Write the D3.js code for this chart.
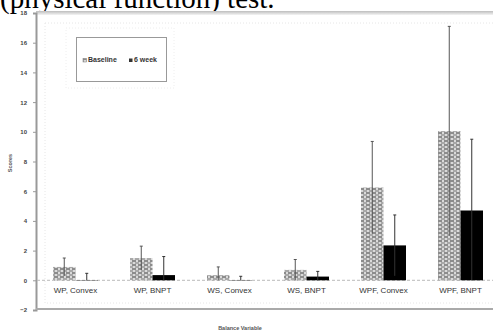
<!DOCTYPE html>
<html>
<head>
<meta charset="utf-8">
<script src="https://cdn.jsdelivr.net/npm/d3@7"></script>
<style>
  body { margin: 0; background: #fff; overflow: hidden; }
  svg { display: block; }
</style>
</head>
<body>
<div id="chart"></div>
<script>
// chart values
var categories = ['WP, Convex', 'WP, BNPT', 'WS, Convex', 'WS, BNPT', 'WPF, Convex', 'WPF, BNPT'];
var series = ['Baseline', '6 week'];
var baseline = [0.9, 1.5, 0.35, 0.7, 6.25, 10.05];
var baselineSD = [0.6, 0.8, 0.55, 0.7, 3.1, 7.05];
var followup = [0.02, 0.35, 0.02, 0.25, 2.35, 4.7];
var followupSD = [0.45, 1.25, 0.25, 0.35, 2.05, 4.8];
var yTicks = [-2, 0, 2, 4, 6, 8, 10, 12, 14, 16, 18];

var W = 493, H = 335;
var svg = d3.select('#chart').append('svg').attr('width', W).attr('height', H);

// brick-like checkered fill for baseline bars
var defs = svg.append('defs');
var pat = defs.append('pattern').attr('id', 'check')
  .attr('patternUnits', 'userSpaceOnUse').attr('width', 6).attr('height', 4);
pat.append('rect').attr('width', 6).attr('height', 4).attr('fill', '#dadada');
pat.append('rect').attr('x', 0).attr('y', 0).attr('width', 4).attr('height', 2).attr('fill', '#8c8c8c');
pat.append('rect').attr('x', 3).attr('y', 2).attr('width', 3).attr('height', 2).attr('fill', '#a8a8a8');
pat.append('rect').attr('x', 0).attr('y', 2).attr('width', 1).attr('height', 2).attr('fill', '#a8a8a8');

var grad = defs.append('linearGradient').attr('id', 'shade').attr('x1', 0).attr('y1', 0).attr('x2', 0).attr('y2', 1);
grad.append('stop').attr('offset', '0%').attr('stop-color', '#bdbdbd');
grad.append('stop').attr('offset', '100%').attr('stop-color', '#f4f4f4');

// text of the page above the figure
svg.append('text').attr('x', 0).attr('y', 8)
  .attr('font-family', '"Liberation Serif", "DejaVu Serif", serif')
  .attr('font-size', 29).attr('fill', '#000')
  .text('(physical function) test.');

svg.append('rect').attr('x', 36).attr('y', 11).attr('width', W - 36).attr('height', 4).attr('fill', 'url(#shade)');

var x = d3.scaleBand().domain(categories).range([37, 499]).padding(0);
var xs = d3.scaleBand().domain(series).range([-22.5, 22.5]);
var y = d3.scaleLinear().domain([-2, 18]).range([310, 13]);

// faint inner frame
svg.append('rect').attr('x', 45).attr('y', 23).attr('width', 460).attr('height', 280)
  .attr('fill', 'none').attr('stroke', '#e6e6e6').attr('stroke-dasharray', '1,2');

// y axis
var yAxis = svg.append('g').attr('transform', 'translate(36,0)')
  .call(d3.axisLeft(y).tickValues(yTicks).tickSize(3).tickPadding(6));
yAxis.select('.domain').attr('stroke', '#999').attr('stroke-width', 2);
yAxis.selectAll('.tick line').attr('stroke', '#999');
yAxis.selectAll('.tick text').attr('font-family', 'Arial, "Liberation Sans", sans-serif')
  .attr('font-size', 6).attr('font-weight', 'bold').attr('fill', '#444');

// bottom frame line
svg.append('line').attr('x1', 36).attr('x2', W).attr('y1', y(-2) - 1).attr('y2', y(-2) - 1)
  .attr('stroke', '#aaa').attr('stroke-width', 2);

// zero line
svg.append('line').attr('x1', 37).attr('x2', W).attr('y1', y(0)).attr('y2', y(0))
  .attr('stroke', '#bbb').attr('stroke-dasharray', '3,2');

var rows = categories.map(function(c, i) {
  return [
    { cat: c, s: series[0], v: baseline[i], sd: baselineSD[i] },
    { cat: c, s: series[1], v: followup[i], sd: followupSD[i] }
  ];
});
var flat = [].concat.apply([], rows);

function bx(d) { return x(d.cat) + x.bandwidth() / 2 + xs(d.s); }
function cx(d) { return bx(d) + xs.bandwidth() / 2; }

svg.selectAll('.bar').data(flat).enter().append('rect')
  .attr('class', 'bar')
  .attr('x', bx)
  .attr('width', xs.bandwidth())
  .attr('y', function(d) { return y(Math.max(0, d.v)); })
  .attr('height', function(d) { return Math.abs(y(d.v) - y(0)); })
  .attr('fill', function(d) { return d.s === series[0] ? 'url(#check)' : '#000'; });

// error bars (+/- sd)
var eb = svg.selectAll('.err').data(flat).enter().append('g').attr('class', 'err')
  .attr('stroke', function(d) { return d.s === series[0] ? '#555' : '#333'; })
  .attr('stroke-width', 1);
eb.append('line')
  .attr('x1', cx).attr('x2', cx)
  .attr('y1', function(d) { return y(Math.max(d.v - d.sd, 0)); })
  .attr('y2', function(d) { return y(d.v + d.sd); });
eb.append('line')
  .attr('x1', function(d) { return cx(d) - 1.5; })
  .attr('x2', function(d) { return cx(d) + 1.5; })
  .attr('y1', function(d) { return y(d.v + d.sd); })
  .attr('y2', function(d) { return y(d.v + d.sd); });

// category labels
svg.selectAll('.cat').data(categories).enter().append('text')
  .attr('class', 'cat')
  .attr('x', function(d) { return x(d) + x.bandwidth() / 2; })
  .attr('y', 293)
  .attr('text-anchor', 'middle')
  .attr('font-family', 'Arial, "Liberation Sans", sans-serif')
  .attr('font-size', 8).attr('fill', '#333')
  .text(function(d) { return d; });

// axis titles
svg.append('text').attr('x', 240).attr('y', 330).attr('text-anchor', 'middle')
  .attr('font-family', 'Arial, "Liberation Sans", sans-serif')
  .attr('font-size', 5.5).attr('font-weight', 'bold').attr('fill', '#555')
  .text('Balance Variable');
svg.append('text').attr('transform', 'translate(12,163) rotate(-90)').attr('text-anchor', 'middle')
  .attr('font-family', 'Arial, "Liberation Sans", sans-serif')
  .attr('font-size', 5.5).attr('font-weight', 'bold').attr('fill', '#555')
  .text('Scores');

// legend
var lg = svg.append('g');
lg.append('rect').attr('x', 66).attr('y', 28).attr('width', 108).attr('height', 60)
  .attr('fill', 'none').attr('stroke', '#eee').attr('stroke-dasharray', '1,2');
lg.append('rect').attr('x', 76.5).attr('y', 37.5).attr('width', 90).attr('height', 44)
  .attr('fill', '#fff').attr('stroke', '#999');
var items = lg.selectAll('.li').data(series).enter().append('g')
  .attr('transform', function(d, i) { return 'translate(' + [83, 129][i] + ',62)'; });
items.append('rect').attr('x', 0).attr('y', -3.5).attr('width', 3.5).attr('height', 3.5)
  .attr('fill', function(d, i) { return i === 0 ? 'url(#check)' : '#333'; })
  .attr('stroke', function(d, i) { return i === 0 ? '#777' : 'none'; }).attr('stroke-width', 0.5);
items.append('text').attr('x', 5).attr('y', 0)
  .attr('font-family', 'Arial, "Liberation Sans", sans-serif')
  .attr('font-size', 7).attr('font-weight', 'bold').attr('fill', '#333')
  .text(function(d) { return d; });
</script>
</body>
</html>
